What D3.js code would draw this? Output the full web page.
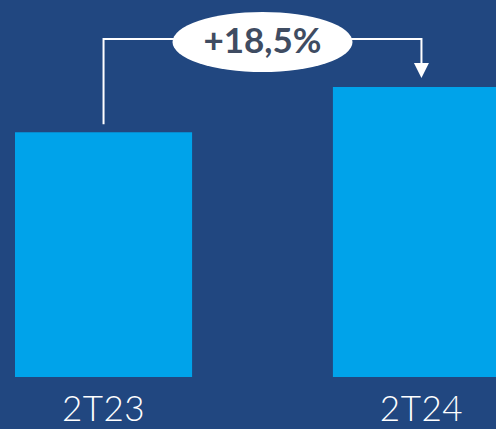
<!DOCTYPE html>
<html><head><meta charset="utf-8">
<script src="https://cdn.jsdelivr.net/npm/d3@7"></script>
<style>html,body{margin:0;padding:0;background:#214780;overflow:hidden}</style>
</head><body><svg id="c" width="496" height="429"></svg>
<script>
const categories = ["2T23", "2T24"];
const values = [100, 118.5];
const changeLabel = "+18,5%";

const svg = d3.select("#c");
const W = 496, H = 429;
svg.append("rect").attr("width", W).attr("height", H).attr("fill", "#214780");

const x = d3.scaleBand().domain(categories).range([15, 510]).paddingInner(0.443).paddingOuter(0);
const y = d3.scaleLinear().domain([0, 118.5]).range([377, 87]);

svg.selectAll("rect.bar").data(values).join("rect")
  .attr("class", "bar")
  .attr("x", (d, i) => x(categories[i]))
  .attr("y", d => y(d))
  .attr("width", x.bandwidth())
  .attr("height", d => y(0) - y(d))
  .attr("fill", "#00a3ea");

svg.selectAll("text.cat").data(categories).join("text")
  .attr("class", "cat")
  .attr("x", d => x(d) + x.bandwidth() / 2)
  .attr("y", 421)
  .attr("text-anchor", "middle")
  .attr("font-family", "Lato, 'Open Sans', sans-serif")
  .attr("font-weight", 300)
  .attr("font-size", 35)
  .attr("letter-spacing", 0.5)
  .attr("fill", "#ffffff")
  .text(d => d);

// annotation
const c1 = x(categories[0]) + x.bandwidth() / 2;
const c2 = x(categories[1]) + x.bandwidth() / 2;
const lineY = 39;
const ex = (c1 + c2) / 2, ey = 42;
const stroke = "#ffffff";
svg.append("path")
  .attr("d", `M${c1},${y(values[0]) - 8}V${lineY}H${c2}V${y(values[1]) - 24}`)
  .attr("fill", "none").attr("stroke", stroke).attr("stroke-width", 2);
const tipY = y(values[1]) - 9;
svg.append("path")
  .attr("d", `M${c2 - 7.5},${tipY - 15}L${c2 + 7.5},${tipY - 15}L${c2},${tipY}Z`)
  .attr("fill", stroke);
svg.append("ellipse")
  .attr("cx", ex).attr("cy", ey).attr("rx", 90).attr("ry", 30)
  .attr("fill", "#ffffff");
svg.append("text")
  .attr("x", ex).attr("y", 53)
  .attr("text-anchor", "middle")
  .attr("font-family", "Lato, 'Open Sans', sans-serif")
  .attr("font-weight", 700)
  .attr("font-size", 35)
  .attr("fill", "#3f4c62")
  .text(changeLabel);
</script></body></html>
